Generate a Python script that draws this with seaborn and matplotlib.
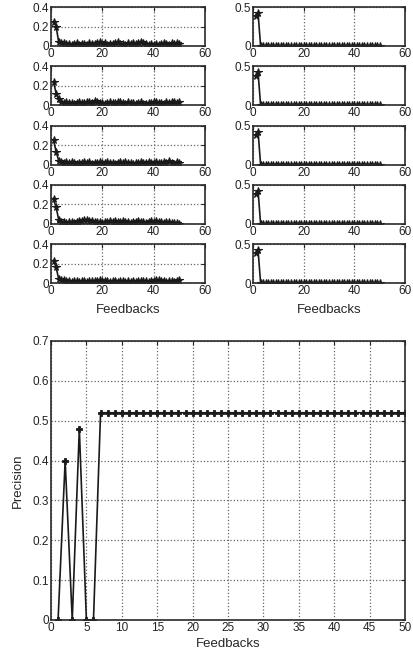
import numpy as np
import seaborn as sns
import matplotlib
matplotlib.use("Agg")
import matplotlib.pyplot as plt

sns.set_style("white")
plt.rcParams['font.family'] = ['Liberation Sans', 'DejaVu Sans']

# feedback index for the small panels and the precision plot
feedbacks = list(range(1, 51))

# left column: five runs, values on a 0-0.4 scale
left_runs = [
    [0.25, 0.20, 0.04, 0.03, 0.03, 0.02, 0.02, 0.01, 0.02, 0.03,
     0.01, 0.02, 0.02, 0.01, 0.03, 0.02, 0.02, 0.03, 0.04, 0.02,
     0.03, 0.01, 0.02, 0.02, 0.03, 0.04, 0.02, 0.02, 0.01, 0.03,
     0.02, 0.03, 0.02, 0.03, 0.04, 0.03, 0.02, 0.01, 0.02, 0.01,
     0.02, 0.01, 0.02, 0.03, 0.02, 0.01, 0.03, 0.02, 0.03, 0.02],
    [0.24, 0.12, 0.06, 0.03, 0.02, 0.03, 0.02, 0.02, 0.01, 0.02,
     0.03, 0.02, 0.02, 0.03, 0.03, 0.02, 0.04, 0.03, 0.02, 0.02,
     0.01, 0.02, 0.03, 0.02, 0.02, 0.03, 0.03, 0.02, 0.01, 0.03,
     0.02, 0.02, 0.01, 0.02, 0.03, 0.01, 0.01, 0.02, 0.02, 0.03,
     0.03, 0.02, 0.02, 0.01, 0.03, 0.02, 0.03, 0.03, 0.02, 0.03],
    [0.25, 0.13, 0.04, 0.03, 0.02, 0.03, 0.02, 0.03, 0.02, 0.01,
     0.02, 0.02, 0.03, 0.02, 0.03, 0.01, 0.02, 0.02, 0.03, 0.02,
     0.02, 0.03, 0.02, 0.02, 0.01, 0.02, 0.03, 0.02, 0.03, 0.02,
     0.02, 0.01, 0.02, 0.02, 0.03, 0.02, 0.02, 0.03, 0.02, 0.02,
     0.03, 0.02, 0.02, 0.03, 0.02, 0.04, 0.02, 0.01, 0.03, 0.02],
    [0.25, 0.17, 0.04, 0.02, 0.02, 0.01, 0.02, 0.02, 0.01, 0.02,
     0.03, 0.03, 0.04, 0.04, 0.03, 0.03, 0.02, 0.02, 0.02, 0.01,
     0.02, 0.02, 0.03, 0.02, 0.03, 0.02, 0.02, 0.03, 0.02, 0.02,
     0.01, 0.02, 0.02, 0.03, 0.02, 0.02, 0.01, 0.02, 0.03, 0.02,
     0.03, 0.02, 0.02, 0.01, 0.02, 0.02, 0.01, 0.01, 0.01, 0.00],
    [0.23, 0.16, 0.04, 0.03, 0.03, 0.02, 0.02, 0.01, 0.02, 0.02,
     0.01, 0.02, 0.02, 0.01, 0.02, 0.02, 0.02, 0.02, 0.03, 0.02,
     0.02, 0.02, 0.01, 0.02, 0.02, 0.01, 0.02, 0.02, 0.01, 0.02,
     0.01, 0.02, 0.01, 0.02, 0.02, 0.02, 0.02, 0.01, 0.02, 0.02,
     0.03, 0.03, 0.02, 0.02, 0.01, 0.02, 0.02, 0.01, 0.02, 0.03],
]

# right column: five runs, values on a 0-0.5 scale
right_run = [0.38, 0.42, 0, 0, 0, 0, 0, 0, 0, 0,
             0, 0, 0, 0, 0, 0, 0, 0, 0, 0,
             0, 0, 0, 0, 0, 0, 0, 0, 0, 0,
             0, 0, 0, 0, 0, 0, 0, 0, 0, 0,
             0, 0, 0, 0, 0, 0, 0, 0, 0, 0]
right_runs = [right_run, right_run, right_run, right_run, right_run]

# bottom: precision per feedback
precision = [0, 0.40, 0, 0.48, 0, 0, 0.52, 0.52, 0.52, 0.52,
             0.52, 0.52, 0.52, 0.52, 0.52, 0.52, 0.52, 0.52, 0.52, 0.52,
             0.52, 0.52, 0.52, 0.52, 0.52, 0.52, 0.52, 0.52, 0.52, 0.52,
             0.52, 0.52, 0.52, 0.52, 0.52, 0.52, 0.52, 0.52, 0.52, 0.52,
             0.52, 0.52, 0.52, 0.52, 0.52, 0.52, 0.52, 0.52, 0.52, 0.52]

W, H = 414, 658
fig = plt.figure(figsize=(W / 100, H / 100), dpi=100)
line_col = '#1a1a1a'
grid_kw = dict(linestyle=':', color='#666666', linewidth=0.9)


def style_axes(ax):
    for s in ax.spines.values():
        s.set_color('#2a2a2a')
        s.set_linewidth(1.2)
    ax.tick_params(direction='in', length=3, labelsize=8.5, colors='#222222',
                   pad=1.5, top=True, right=True)
    ax.grid(True, **grid_kw)
    ax.set_xlabel('')
    ax.set_ylabel('')


def pax(left, top, right, bottom):
    return fig.add_axes([left / W, 1 - bottom / H, (right - left) / W, (bottom - top) / H])


for i in range(5):
    top = 7 + 59.25 * i
    bot = top + 39
    axl = pax(51, top, 205, bot)
    sns.lineplot(x=feedbacks, y=left_runs[i], ax=axl, color=line_col, linewidth=1.2,
                 marker='*', markersize=5.5, markeredgewidth=0.8, markeredgecolor=line_col)
    axl.set_xlim(0, 60)
    axl.set_ylim(0, 0.4)
    axl.set_xticks([0, 20, 40, 60])
    axl.set_xticklabels(['0', '20', '40', '60'])
    axl.set_yticks([0, 0.2, 0.4])
    axl.set_yticklabels(['0', '0.2', '0.4'])
    style_axes(axl)

    axr = pax(253, top, 405, bot)
    sns.lineplot(x=feedbacks, y=right_runs[i], ax=axr, color=line_col, linewidth=1.2,
                 marker='*', markersize=5.5, markeredgewidth=0.8, markeredgecolor=line_col)
    axr.set_xlim(0, 60)
    axr.set_ylim(0, 0.5)
    axr.set_xticks([0, 20, 40, 60])
    axr.set_xticklabels(['0', '20', '40', '60'])
    axr.set_yticks([0, 0.5])
    axr.set_yticklabels(['0', '0.5'])
    style_axes(axr)
    if i == 4:
        axl.set_xlabel('Feedbacks', fontsize=9.5, labelpad=5)
        axr.set_xlabel('Feedbacks', fontsize=9.5, labelpad=5)

axb = pax(51, 341, 405, 620)
sns.lineplot(x=feedbacks, y=precision, ax=axb, color=line_col, linewidth=1.2,
             marker='P', markersize=5, markeredgewidth=0.6, markeredgecolor=line_col)
axb.set_xlim(0, 50)
axb.set_ylim(0, 0.7)
axb.set_xticks(range(0, 55, 5))
axb.set_xticklabels([str(v) for v in range(0, 55, 5)])
yt = [0, 0.1, 0.2, 0.3, 0.4, 0.5, 0.6, 0.7]
axb.set_yticks(yt)
axb.set_yticklabels(['0', '0.1', '0.2', '0.3', '0.4', '0.5', '0.6', '0.7'])
style_axes(axb)
axb.set_xlabel('Feedbacks', fontsize=9.5, labelpad=3)
axb.set_ylabel('Precision', fontsize=9.5, labelpad=6)

fig.savefig('out.png', dpi=100)
